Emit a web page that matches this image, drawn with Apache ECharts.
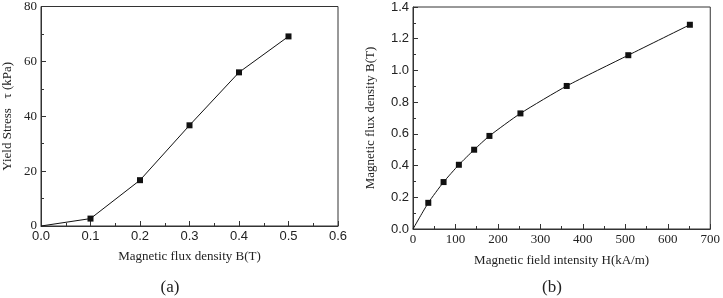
<!DOCTYPE html>
<html>
<head>
<meta charset="utf-8">
<script src="https://cdn.jsdelivr.net/npm/echarts@6/dist/echarts.min.js"></script>
<style>html,body{margin:0;padding:0;background:#fff}#c{width:723px;height:298px}</style>
</head>
<body>
<div id="c"></div>
<script>
// Panel (a): yield stress vs magnetic flux density
const aB = [0, 0.1, 0.2, 0.3, 0.4, 0.5];
const aStress = [0, 2.7, 16.7, 36.7, 56.0, 69.1];
// Panel (b): B-H curve
const bH = [0, 36, 72, 108, 144, 180, 253, 362, 507, 652];
const bB = [0, 0.165, 0.296, 0.405, 0.500, 0.587, 0.729, 0.902, 1.096, 1.288];

const serif = 'Liberation Serif';
const sans = 'Liberation Sans';
const ink = '#222';
const axisColor = '#333';

function pts(xs, ys) {
  return xs.map((x, i) => i === 0 ? { value: [x, ys[i]], symbol: 'none' } : [x, ys[i]]);
}

function axisBase(font) {
  return {
    axisLine: { show: true, onZero: false, lineStyle: { color: axisColor, width: 1 } },
    axisTick: { show: true, inside: true, length: 5, lineStyle: { color: axisColor } },
    minorTick: { show: true, splitNumber: 2, length: 3, lineStyle: { color: axisColor } },
    splitLine: { show: false },
    axisLabel: { color: ink, fontFamily: font, fontSize: 13, margin: 4, showMinLabel: true, showMaxLabel: true },
    nameLocation: 'middle',
    nameTextStyle: { color: ink, fontFamily: serif, fontSize: 13 }
  };
}

const chart = echarts.init(document.getElementById('c'));
chart.setOption({
  animation: false,
  backgroundColor: '#fff',
  title: [
    { text: '(a)', left: 165, top: 274, textAlign: 'center', textStyle: { fontFamily: serif, fontSize: 17, fontWeight: 'normal', color: ink } },
    { text: '(b)', left: 547, top: 274, textAlign: 'center', textStyle: { fontFamily: serif, fontSize: 17, fontWeight: 'normal', color: ink } }
  ],
  grid: [
    { left: 41, top: 5, width: 297, height: 221, show: true, borderColor: axisColor, borderWidth: 1, backgroundColor: 'transparent' },
    { left: 413, top: 7, width: 300, height: 222, show: true, borderColor: axisColor, borderWidth: 1, backgroundColor: 'transparent' }
  ],
  xAxis: [
    Object.assign(axisBase(sans), {
      gridIndex: 0, type: 'value', min: 0, max: 0.6, interval: 0.1,
      name: 'Magnetic flux density B(T)', nameGap: 24,
      axisLabel: Object.assign(axisBase(sans).axisLabel, { formatter: v => v.toFixed(1) })
    }),
    Object.assign(axisBase(serif), {
      gridIndex: 1, type: 'value', min: 0, max: 700, interval: 100,
      name: 'Magnetic field intensity H(kA/m)', nameGap: 25
    })
  ],
  yAxis: [
    Object.assign(axisBase(serif), {
      gridIndex: 0, type: 'value', min: 0, max: 80, interval: 20,
      name: 'Yield Stress   \u03c4 (kPa)', nameGap: 27
    }),
    Object.assign(axisBase(sans), {
      gridIndex: 1, type: 'value', min: 0, max: 1.4, interval: 0.2,
      name: 'Magnetic flux density B(T)', nameGap: 36,
      axisLabel: Object.assign(axisBase(sans).axisLabel, { formatter: v => v.toFixed(1) })
    })
  ],
  series: [
    {
      type: 'line', xAxisIndex: 0, yAxisIndex: 0, data: pts(aB, aStress),
      symbol: 'rect', symbolSize: 6, showSymbol: true, clip: false,
      lineStyle: { color: '#111', width: 1 }, itemStyle: { color: '#111' }
    },
    {
      type: 'line', xAxisIndex: 1, yAxisIndex: 1, data: pts(bH, bB),
      symbol: 'rect', symbolSize: 6, showSymbol: true, clip: false, smooth: 0.2,
      lineStyle: { color: '#111', width: 1 }, itemStyle: { color: '#111' }
    }
  ]
});
</script>
</body>
</html>
